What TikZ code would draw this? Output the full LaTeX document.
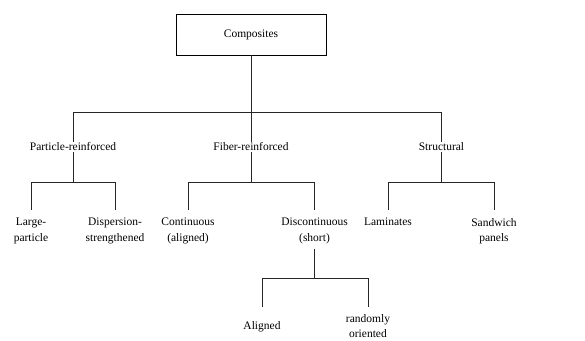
\documentclass[tikz,border=0pt]{standalone}
\usepackage{fontspec}
\setmainfont{Liberation Serif}
\usetikzlibrary{positioning}

\begin{document}
\begin{tikzpicture}[x=1pt,y=-1pt,
	every node/.style={font=\fontsize{11.5}{15.5}\selectfont,align=center,inner sep=1pt},
	box/.style={draw=black,line width=0.8pt,minimum width=150pt,minimum height=41pt},
	link/.style={draw=black!85,line width=0.8pt},
	leaf/.style={link,shorten >=7pt}]
	\useasboundingbox (0,0) rectangle (585,340);
	
	\node[box] (comp) at (251,34.5) {Composites};
	
	\node (part) at (73,147) {Particle-reinforced};
	\node (fiber) at (251,147) {Fiber-reinforced};
	\node (struct) at (441.5,147) {Structural};
	
	\node[anchor=north] (large) at (31,217) {Large-\\particle};
	\node[anchor=north] (disp) at (115,217) {Dispersion-\\strengthened};
	\node[anchor=north] (cont) at (188,217) {Continuous\\(aligned)};
	\node[anchor=north] (disc) at (314.5,217) {Discontinuous\\(short)};
	\node[anchor=north] (lam) at (388,217) {Laminates};
	\node[anchor=north] (sand) at (494,217) {Sandwich\\panels};
	
	\node[anchor=north] (align) at (262,320) {Aligned};
	\node[anchor=north] (rand) at (368,313) {randomly\\oriented};
	
	\coordinate (bar0) at (251,112);
	\coordinate (bar1) at (251,182);
	\coordinate (bar2) at (315,278);
	
	% first level
	\draw[link] (comp) -- (comp |- bar0) -| (part);
	\draw[link] (comp |- bar0) -| (struct);
	\draw[link] (comp |- bar0) -- (fiber);
	
	% second level
	\draw[leaf] (part) -- (part |- bar1) -| (large);
	\draw[leaf] (part |- bar1) -| (disp);
	\draw[leaf] (fiber) -- (fiber |- bar1) -| (cont);
	\draw[leaf] (fiber |- bar1) -| (disc);
	\draw[leaf] (struct) -- (struct |- bar1) -| (lam);
	\draw[leaf] (struct |- bar1) -| (sand);
	
	% third level
	\draw[leaf,shorten <=4pt,shorten >=13pt] (disc) -- (disc |- bar2) -| (align);
	\draw[leaf,shorten >=6pt] (disc |- bar2) -| (rand);
	
\end{tikzpicture}
\end{document}
